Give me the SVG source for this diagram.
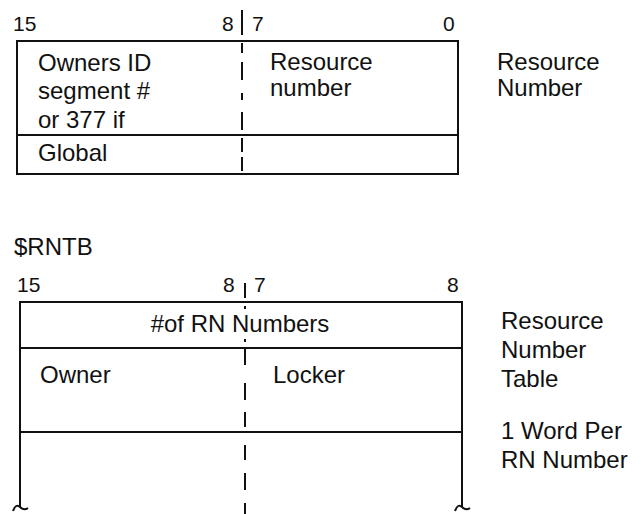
<svg xmlns="http://www.w3.org/2000/svg" width="641" height="514" viewBox="0 0 641 514">
<style>
  text { font-family: "Liberation Sans", Arial, sans-serif; fill: #111; }
  .lbl { font-size: 24px; }
  .bit { font-size: 21px; }
  .box { fill: none; stroke: #111; stroke-width: 2; }
  .dash { fill: none; stroke: #111; stroke-width: 2; }
</style>
<rect width="641" height="514" fill="#fff"/>

<g id="resource-number">
  <text class="bit" x="13" y="31">15</text>
  <text class="bit" x="222" y="31">8</text>
  <text class="bit" x="252" y="31">7</text>
  <text class="bit" x="443" y="31">0</text>
  <rect class="box" x="17" y="41" width="441" height="133"/>
  <line class="box" x1="17" y1="135" x2="458" y2="135"/>
  <text class="lbl" x="38" y="71">Owners ID</text>
  <text class="lbl" x="38" y="99">segment #</text>
  <text class="lbl" x="38" y="128">or 377 if</text>
  <text class="lbl" x="38" y="161">Global</text>
  <text class="lbl" x="270" y="70">Resource</text>
  <text class="lbl" x="270" y="96">number</text>
  <text class="lbl" x="497" y="70">Resource</text>
  <text class="lbl" x="497" y="96">Number</text>
</g>

<g id="rntb">
  <text class="lbl" x="14" y="255">$RNTB</text>
  <text class="bit" x="17" y="292">15</text>
  <text class="bit" x="223" y="292">8</text>
  <text class="bit" x="254" y="292">7</text>
  <text class="bit" x="447" y="292">8</text>
  <path class="box" d="M20,507 V302 H462 V507"/>
  <line class="box" x1="20" y1="348" x2="462" y2="348"/>
  <line class="box" x1="20" y1="432" x2="462" y2="432"/>
  <path class="box" d="M13,511 Q16,503 20,507 T28,508"/>
  <path class="box" d="M455,511 Q458,503 462,507 T470,508"/>
  <text class="lbl" x="240" y="332" text-anchor="middle">#of RN Numbers</text>
  <text class="lbl" x="40" y="383">Owner</text>
  <text class="lbl" x="273" y="383">Locker</text>
  <text class="lbl" x="501" y="329">Resource</text>
  <text class="lbl" x="501" y="358">Number</text>
  <text class="lbl" x="501" y="387">Table</text>
  <text class="lbl" x="501" y="439">1 Word Per</text>
  <text class="lbl" x="501" y="468">RN Number</text>
</g>

<g id="connectors">
  <path class="dash" d="M242,10 V35 M242,43 V53 M242,62 V80 M242,93 V100 M242,112 V130 M242,138 V152 M242,157 V171"/>
  <path class="dash" d="M245,283 V298 M245,306 V309 M245,339 V342 M245,347 V365 M245,383 V400 M245,412 V427 M245,445 V460 M245,473 V490 M245,503 V514"/>
</g>
</svg>
